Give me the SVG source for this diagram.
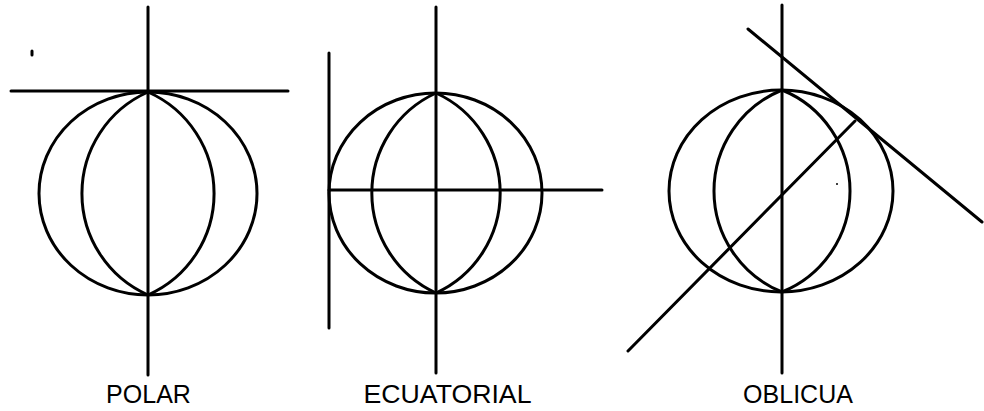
<svg xmlns="http://www.w3.org/2000/svg" width="984" height="411" viewBox="0 0 984 411">
<style>
.s{fill:none;stroke:#000;stroke-width:3;stroke-linecap:round}
.t{font-family:"Liberation Sans",Arial,sans-serif;font-size:25px;fill:#000;text-anchor:middle}
</style>
<rect width="984" height="411" fill="#fff"/>
<g id="polar">
<ellipse class="s" cx="148" cy="193.5" rx="109" ry="101.5"/>
<path class="s" d="M148,92 A111,111 0 0 0 148,295 M148,92 A111,111 0 0 1 148,295"/>
<line class="s" x1="148" y1="7" x2="148" y2="375"/>
<line class="s" x1="11" y1="91" x2="288" y2="91"/>
<line class="s" x1="32" y1="51" x2="32" y2="55"/>
<text class="t" x="148.5" y="403">POLAR</text>
</g>
<g id="ecuatorial">
<ellipse class="s" cx="435.5" cy="193" rx="106.5" ry="100"/>
<path class="s" d="M436,93 A110,110 0 0 0 436,293 M436,93 A110,110 0 0 1 436,293"/>
<line class="s" x1="436" y1="7" x2="436" y2="373"/>
<line class="s" x1="329" y1="190" x2="602" y2="190"/>
<line class="s" x1="329" y1="53" x2="329" y2="328"/>
<text class="t" x="447.5" y="403" textLength="168" lengthAdjust="spacingAndGlyphs">ECUATORIAL</text>
</g>
<g id="oblicua">
<ellipse class="s" cx="781" cy="191" rx="112" ry="101"/>
<path class="s" d="M782,90 A109,109 0 0 0 782,292 M782,90 A109,109 0 0 1 782,292"/>
<line class="s" x1="782" y1="5" x2="782" y2="373"/>
<line class="s" x1="748" y1="29" x2="982" y2="222"/>
<line class="s" x1="628" y1="351" x2="855" y2="121"/>
<circle cx="837" cy="184" r="1" fill="#000"/>
<text class="t" x="798" y="403">OBLICUA</text>
</g>
</svg>
